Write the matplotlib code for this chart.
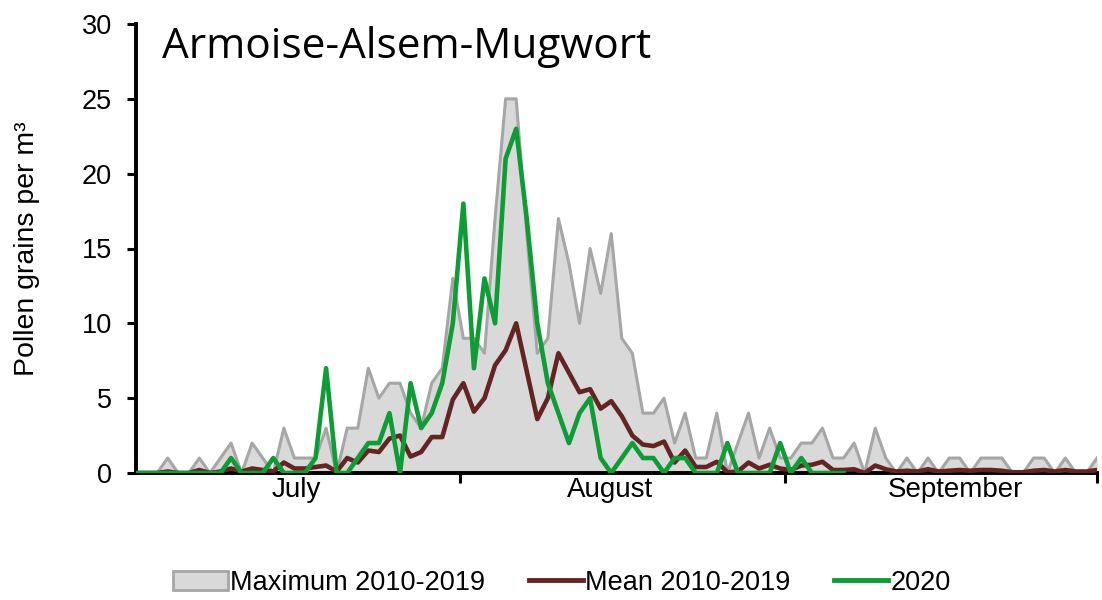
import matplotlib
matplotlib.use("Agg")
import matplotlib.pyplot as plt
from matplotlib.patches import Patch
from matplotlib.lines import Line2D
import numpy as np

# dagen 1 juli .. 30 september (index 0..91)
days = np.arange(92)

max_2010_2019 = [0, 0, 0, 1, 0, 0, 1, 0, 1, 2, 0, 2, 1, 0, 3, 1, 1, 1, 3, 0,
                 3, 3, 7, 5, 6, 6, 4, 3, 6, 7, 13, 9, 9, 8, 17, 25, 25, 16, 8, 9,
                 17, 14, 10, 15, 12, 16, 9, 8, 4, 4, 5, 2, 4, 1, 1, 4, 0, 2, 4, 1,
                 3, 1, 1, 2, 2, 3, 1, 1, 2, 0, 3, 1, 0, 1, 0, 1, 0, 1, 1, 0,
                 1, 1, 1, 0, 0, 1, 1, 0, 1, 0, 0, 1]

mean_2010_2019 = [0, 0, 0, 0.1, 0, 0, 0.2, 0, 0.1, 0.3, 0.1, 0.3, 0.2, 0.1, 0.7, 0.3, 0.3, 0.4, 0.5, 0.1,
                  1.0, 0.7, 1.5, 1.4, 2.3, 2.5, 1.1, 1.4, 2.4, 2.4, 4.9, 6.0, 4.1, 5.0, 7.2, 8.2, 10.0, 6.8, 3.6, 5.0,
                  8.0, 6.7, 5.4, 5.6, 4.3, 4.8, 3.8, 2.5, 1.9, 1.8, 2.1, 0.7, 1.5, 0.4, 0.4, 0.75, 0.05, 0.1, 0.7, 0.3,
                  0.55, 0.3, 0.2, 0.5, 0.55, 0.75, 0.2, 0.2, 0.25, 0.0, 0.5, 0.25, 0.1, 0.15, 0.1, 0.25, 0.1, 0.15, 0.2, 0.15,
                  0.2, 0.2, 0.15, 0.05, 0.05, 0.15, 0.2, 0.1, 0.2, 0.1, 0.1, 0.2]

# 2020 loopt tot index 67
y2020 = [0, 0, 0, 0, 0, 0, 0, 0, 0, 1, 0, 0, 0, 1, 0, 0, 0, 1, 7, 0,
         0, 1, 2, 2, 4, 0, 6, 3, 4, 6, 10, 18, 7, 13, 10, 21, 23, 17, 10, 6,
         4, 2, 4, 5, 1, 0, 1, 2, 1, 1, 0, 1, 1, 0, 0, 0, 2, 0, 0, 0,
         0, 2, 0, 1, 0, 0, 0, 0]

month_names = ["July", "August", "September"]
month_label_pos = [15.2, 44.9, 77.6]
month_edges = [30.7, 61.5, 91]

c_fill = "#d9d9d9"
c_max = "#a6a6a6"
c_mean = "#632523"
c_2020 = "#0e9c35"

plt.rcParams["font.family"] = ["Liberation Sans", "DejaVu Sans"]

fig = plt.figure(figsize=(11.02, 6), dpi=100)
ax = fig.add_axes([136 / 1102, 1 - 473 / 600, 961 / 1102, 449 / 600])

ax.fill_between(days, max_2010_2019, 0, color=c_fill, linewidth=0, zorder=1)
ax.plot(days, max_2010_2019, color=c_max, linewidth=2.2, zorder=2)
ax.plot(days, mean_2010_2019, color=c_mean, linewidth=3.3, zorder=3)
ax.plot(days[:len(y2020)], y2020, color=c_2020, linewidth=3.3, zorder=4)

ax.set_xlim(0, 91)
ax.set_ylim(0, 30)
ax.set_yticks(range(0, 31, 5))
ax.tick_params(axis="y", labelsize=19.5, length=6.5, width=2.2, direction="out", pad=11)

ax.set_xticks(month_edges)
ax.set_xticklabels([])
ax.set_xticks(month_label_pos, minor=True)
ax.set_xticklabels(month_names, minor=True)
ax.tick_params(axis="x", which="major", length=7, width=2.2, direction="out")
ax.tick_params(axis="x", which="minor", length=0, labelsize=20, pad=3)

for s in ["top", "right"]:
    ax.spines[s].set_visible(False)
for s in ["left", "bottom"]:
    ax.spines[s].set_linewidth(2.8)

ax.set_ylabel("Pollen grains per m³", fontsize=20.5)
ax.yaxis.set_label_coords(-0.1, 0.5)

ax.text(0.027, 0.948, "Armoise-Alsem-Mugwort", transform=ax.transAxes,
        fontsize=30.5, va="center", ha="left", family=["Open Sans", "DejaVu Sans"])

handles = [
    Patch(facecolor=c_fill, edgecolor=c_max, linewidth=2),
    Line2D([], [], color=c_mean, linewidth=3.5),
    Line2D([], [], color=c_2020, linewidth=3.5),
]
fig.legend(handles, ["Maximum 2010-2019", "Mean 2010-2019", "2020"],
           loc="center left", bbox_to_anchor=(149 / 1102, 1 - 583 / 600),
           ncol=3, frameon=False, fontsize=19.5, handlelength=2.0,
           handletextpad=0.1, columnspacing=1.6, handleheight=0.75)

fig.savefig("out.png", dpi=100)
